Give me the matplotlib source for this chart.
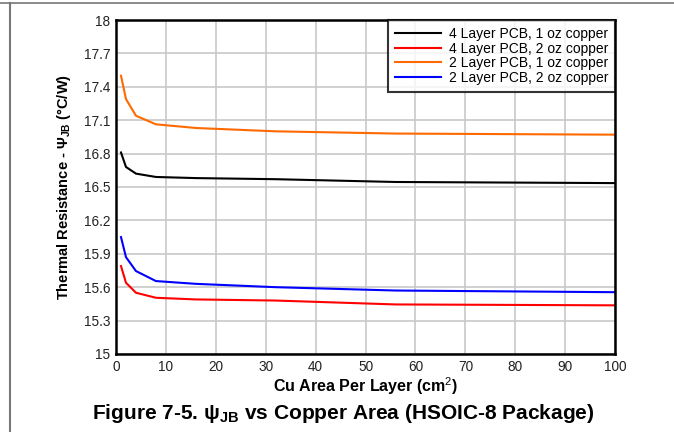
import matplotlib
matplotlib.use("Agg")
import matplotlib.pyplot as plt
from matplotlib.lines import Line2D

plt.rcParams['font.family'] = ['Liberation Sans', 'DejaVu Sans']
plt.rcParams['mathtext.fontset'] = 'custom'
plt.rcParams['mathtext.rm'] = 'Liberation Sans'
plt.rcParams['mathtext.it'] = 'Liberation Sans:italic'
plt.rcParams['mathtext.bf'] = 'Liberation Sans:bold'

# copper area per layer (cm^2)
area = [1, 2, 4, 8, 16, 32, 56, 100]

# psi_JB (C/W)
layer4_1oz = [16.81, 16.68, 16.62, 16.59, 16.58, 16.57, 16.545, 16.535]
layer4_2oz = [15.79, 15.64, 15.55, 15.505, 15.49, 15.48, 15.445, 15.437]
layer2_1oz = [17.50, 17.29, 17.14, 17.063, 17.03, 17.00, 16.98, 16.97]
layer2_2oz = [16.05, 15.87, 15.745, 15.655, 15.63, 15.60, 15.57, 15.555]

labels = ["4 Layer PCB, 1 oz copper", "4 Layer PCB, 2 oz copper",
          "2 Layer PCB, 1 oz copper", "2 Layer PCB, 2 oz copper"]
colors = ["black", "#ff0000", "#ff6a00", "#0000ff"]

x_ticks = list(range(0, 101, 10))
y_ticks = [15, 15.3, 15.6, 15.9, 16.2, 16.5, 16.8, 17.1, 17.4, 17.7, 18]
y_ticklabels = ["15", "15.3", "15.6", "15.9", "16.2", "16.5", "16.8",
                "17.1", "17.4", "17.7", "18"]

fig = plt.figure(figsize=(6.74, 4.32), dpi=100)
ax = fig.add_axes([0.1721, 0.1806, 0.7404, 0.7731])

series = [layer4_1oz, layer4_2oz, layer2_1oz, layer2_2oz]
for vals, lab, col in zip(series, labels, colors):
    ax.plot(area, vals, color=col, lw=1.5, label=lab)

ax.set_xlim(0, 100)
ax.set_ylim(15, 18)
ax.set_xticks(x_ticks)
ax.set_yticks(y_ticks)
ax.set_yticklabels(y_ticklabels)
ax.grid(True, color="#c8c8c8", lw=1.2)
ax.set_axisbelow(True)
ax.tick_params(length=0, labelsize=9.8, labelcolor="#222222", pad=4)
for s in ax.spines.values():
    s.set_linewidth(1.8)
    s.set_color("black")

ax.set_xlabel("Cu Area Per Layer (cm$^{2}$)", fontsize=11.5, fontweight="bold", labelpad=1)
ax.set_ylabel(r"Thermal Resistance - $\mathbf{\Psi_{JB}}$ (°C/W)", fontsize=10.5,
              fontweight="bold", labelpad=8)

leg = ax.legend(loc="upper right", fontsize=10, frameon=True, fancybox=False,
                borderaxespad=0, handlelength=3.3, labelspacing=0.05,
                borderpad=0.5, handletextpad=0.55)
leg.get_frame().set_edgecolor("black")
leg.get_frame().set_linewidth(1.5)

fig.text(0.509, 0.042, r"Figure 7-5. $\mathbf{\psi_{JB}}$ vs Copper Area (HSOIC-8 Package)",
         ha="center", va="center", fontsize=15, fontweight="bold")

# page frame lines
fig.add_artist(Line2D([0, 1], [0.992, 0.992], color="#777777", lw=1.2))
fig.add_artist(Line2D([0.0148, 0.0148], [0, 0.992], color="#777777", lw=1.5))

fig.savefig("out.png", dpi=100)
